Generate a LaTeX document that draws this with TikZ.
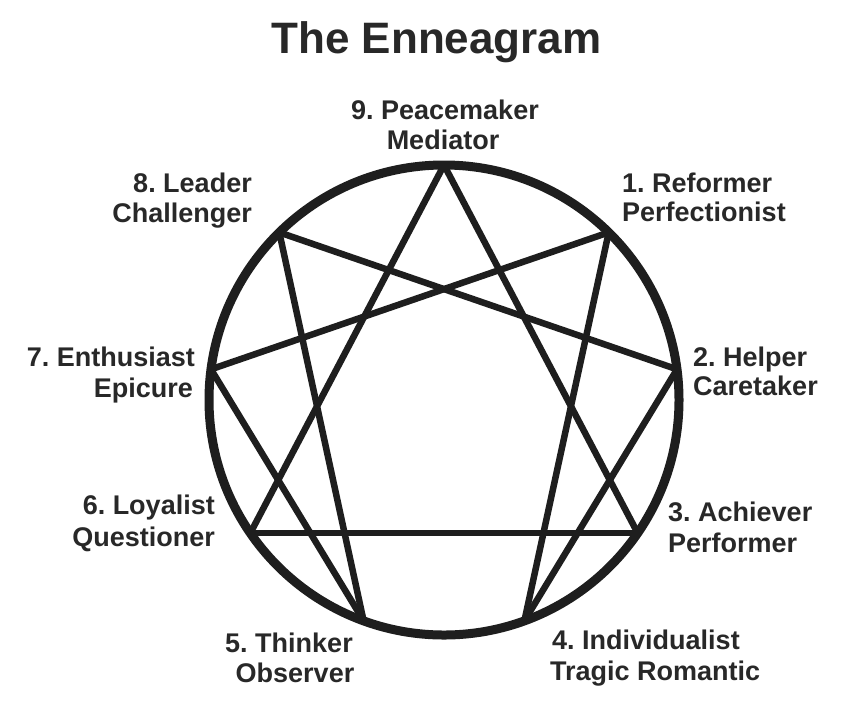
\documentclass[tikz,border=0pt]{standalone}
\usepackage{fontspec}
\setmainfont{Liberation Sans}
\frenchspacing
\definecolor{ink}{RGB}{30,30,30}
\definecolor{txt}{RGB}{40,40,40}
\begin{document}
\begin{tikzpicture}[x=1pt,y=-1pt,
  lab/.style={inner sep=0pt,text=txt,font=\fontsize{27}{30}\selectfont\bfseries},
  ring/.style={draw=ink,line width=9pt},
  chord/.style={draw=ink,line width=6.5pt,line cap=butt}]
\useasboundingbox (0,0) rectangle (864,716);
\fill[white] (0,0) rectangle (864,716);
% title
\node[inner sep=0pt,text=txt,font=\fontsize{44}{48}\selectfont\bfseries,anchor=base] (title) at (436.5,53) {The Enneagram};
% points
\coordinate (c) at (444,400);
\coordinate (p9) at (444,165);
\coordinate (p1) at (608.7,232.4);
\coordinate (p8) at (279.3,232.4);
\coordinate (p2) at (677.0,369.3);
\coordinate (p7) at (211.0,369.3);
\coordinate (p3) at (637.7,533.1);
\coordinate (p6) at (250.3,533.1);
\coordinate (p4) at (524.4,620.8);
\coordinate (p5) at (363.6,620.8);
% chords
\draw[chord] (p9) -- (p3);
\draw[chord] (p3) -- (p6);
\draw[chord] (p6) -- (p9);
\draw[chord] (p1) -- (p4);
\draw[chord] (p4) -- (p2);
\draw[chord] (p2) -- (p8);
\draw[chord] (p8) -- (p5);
\draw[chord] (p5) -- (p7);
\draw[chord] (p7) -- (p1);
% circle
\draw[ring] (c) circle[radius=235];
% labels
\node[lab,anchor=base] (l9a) at (445,119) {9. Peacemaker};
\node[lab,anchor=base] (l9b) at (443,149) {Mediator};
\node[lab,anchor=base west] (l1a) at (622,192) {1. Reformer};
\node[lab,anchor=base west] (l1b) at (622,221) {Perfectionist};
\node[lab,anchor=base east] (l8a) at (252,192) {8. Leader};
\node[lab,anchor=base east] (l8b) at (252,222) {Challenger};
\node[lab,anchor=base west] (l2a) at (693,366) {2. Helper};
\node[lab,anchor=base west] (l2b) at (693,395) {Caretaker};
\node[lab,anchor=base east] (l7a) at (195,366) {7. Enthusiast};
\node[lab,anchor=base east] (l7b) at (193,397) {Epicure};
\node[lab,anchor=base west] (l3a) at (668,521) {3. Achiever};
\node[lab,anchor=base west] (l3b) at (668,552) {Performer};
\node[lab,anchor=base east] (l6a) at (215,514) {6. Loyalist};
\node[lab,anchor=base east] (l6b) at (215,546) {Questioner};
\node[lab,anchor=base west] (l4a) at (552,649) {4. Individualist};
\node[lab,anchor=base west] (l4b) at (550,680) {Tragic Romantic};
\node[lab,anchor=base] (l5a) at (289,652) {5. Thinker};
\node[lab,anchor=base] (l5b) at (295,682) {Observer};
\end{tikzpicture}
\end{document}
